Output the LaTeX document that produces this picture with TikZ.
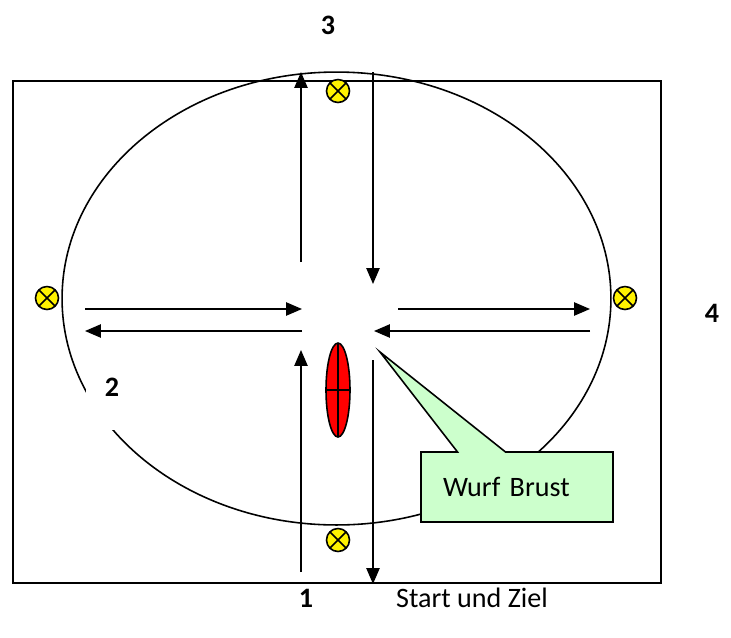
\documentclass[tikz,border=0pt]{standalone}
\usepackage{fontspec}
\setmainfont{Carlito}
\usepackage{tikz}
\usetikzlibrary{shapes.geometric, shapes.callouts, arrows.meta, positioning, calc}
\definecolor{calloutgreen}{RGB}{204, 255, 204}

\begin{document}
\begin{tikzpicture}[
    x=0.02cm, y=-0.02cm,
    lamp/.style={circle, draw=black, fill=yellow, line width=0.9pt, minimum size=0.46cm, inner sep=0pt,
        path picture={\draw[line width=0.9pt] (path picture bounding box.north west) -- (path picture bounding box.south east)
                      (path picture bounding box.north east) -- (path picture bounding box.south west);}},
    num/.style={font=\fontsize{16}{18}\selectfont\bfseries},
    arrow/.style={line width=0.9pt, -{Triangle[length=9pt, width=7.5pt]}},
    line/.style={line width=0.9pt}
]
    \useasboundingbox (0,0) rectangle (731,637);

    % field and track
    \draw[line] (13,81) rectangle (661,583);
    \draw[line] (336.5,298.5) ellipse [x radius=5.49cm, y radius=4.53cm];

    % lamps
    \node[lamp] (lampN) at (338,91) {};
    \node[lamp] (lampW) at (47,298) {};
    \node[lamp] (lampE) at (625,298) {};
    \node[lamp] (lampS) at (338,540) {};

    % player
    \node[ellipse, draw=black, fill=red, line width=0.9pt, minimum width=0.48cm, minimum height=1.88cm, inner sep=0pt,
        path picture={\draw[line width=0.9pt] (path picture bounding box.north) -- (path picture bounding box.south)
                      (path picture bounding box.west) -- (path picture bounding box.east);}] (player) at (338,390) {};

    % end points of the runs
    \coordinate (nUpA) at (301,262);   \coordinate (nUpB) at (301,72);
    \coordinate (nDnA) at (373,72);    \coordinate (nDnB) at (373,284);
    \coordinate (wRtA) at (85,309);    \coordinate (wRtB) at (302,309);
    \coordinate (wLfA) at (302,331);   \coordinate (wLfB) at (85,331);
    \coordinate (eRtA) at (398,309);   \coordinate (eRtB) at (590,309);
    \coordinate (eLfA) at (590,331);   \coordinate (eLfB) at (374,331);
    \coordinate (sUpA) at (301,572);   \coordinate (sUpB) at (301,350);
    \coordinate (sDnA) at (373,360);   \coordinate (sDnB) at (373,584);

    \draw[arrow] (nUpA) -- (nUpB);
    \draw[arrow] (nDnA) -- (nDnB);
    \draw[arrow] (wRtA) -- (wRtB);
    \draw[arrow] (wLfA) -- (wLfB);
    \draw[arrow] (eRtA) -- (eRtB);
    \draw[arrow] (eLfA) -- (eLfB);
    \draw[arrow] (sUpA) -- (sUpB);
    \draw[arrow] (sDnA) -- (sDnB);

    % labels
    \node[num] (lblThree) at (328,25) {3};
    \node[num] (lblFour) at (712,313) {4};
    \node[num, fill=white, minimum width=1.04cm, minimum height=1.72cm] (lblTwo) at (112,387) {2};
    \node[num] (lblOne) at (306,598) {1};
    \node[font=\fontsize{16}{18}\selectfont] (startZiel) at (472,598) {Start und Ziel};

    % callout
    \coordinate (tip) at (380,352);
    \node[rectangle callout, callout absolute pointer={(tip)}, callout pointer width=0.96cm,
        draw=black, fill=calloutgreen, line width=0.9pt, minimum width=3.84cm, minimum height=1.4cm,
        inner xsep=0.44cm, text width=2.96cm, align=left, font=\fontsize{16}{18}\selectfont] (wurf) at (517,487) {Wurf Brust};
\end{tikzpicture}
\end{document}
